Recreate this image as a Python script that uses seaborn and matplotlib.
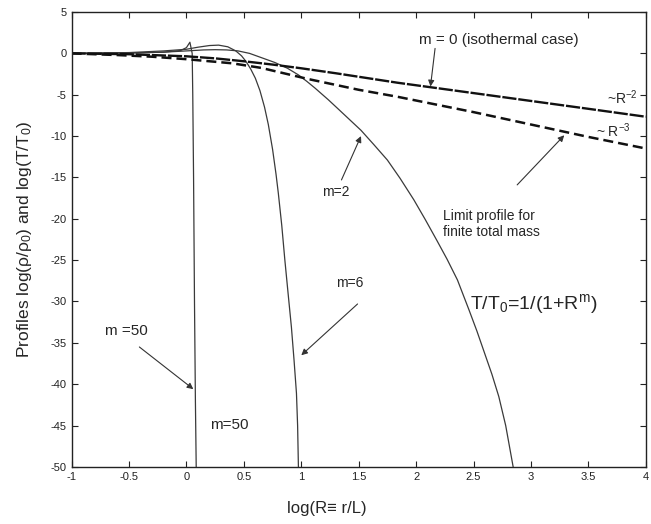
import matplotlib
matplotlib.use("Agg")
import matplotlib.pyplot as plt
import seaborn as sns
import pandas as pd

# ---- data ----
logR_m2 = [-1.0, -0.5, -0.2, 0.0, 0.15, 0.25, 0.35, 0.45, 0.55, 0.65, 0.77, 0.88,
           0.975, 1.05, 1.12, 1.235, 1.32, 1.42, 1.52, 1.63, 1.75, 1.86, 1.98, 2.08,
           2.18, 2.27, 2.36, 2.46, 2.53, 2.59, 2.66, 2.72, 2.78, 2.845]
prof_m2 = [0.0, 0.05, 0.15, 0.3, 0.42, 0.45, 0.42, 0.3, 0.0, -0.5, -1.1, -1.8,
           -2.6, -3.4, -4.2, -5.6, -6.7, -8.0, -9.3, -11.0, -12.9, -15.1, -17.7, -20.1,
           -22.6, -24.9, -27.4, -31.0, -33.6, -36.0, -38.8, -41.5, -45.0, -50.0]

logR_m6 = [-1.0, -0.5, -0.2, 0.0, 0.1, 0.2, 0.28, 0.36, 0.43, 0.48, 0.52, 0.56, 0.6,
           0.64, 0.68, 0.713, 0.75, 0.78, 0.80, 0.83, 0.857, 0.885, 0.914, 0.937,
           0.958, 0.968, 0.975]
prof_m6 = [0.0, 0.1, 0.3, 0.5, 0.75, 0.95, 1.0, 0.8, 0.3, -0.3, -1.0, -1.9, -3.0,
           -4.5, -6.5, -8.6, -11.6, -14.6, -16.9, -20.8, -25.0, -29.0, -33.1, -37.1,
           -41.1, -45.0, -50.0]

logR_m50 = [-1.0, -0.5, -0.2, -0.05, 0.0, 0.03, 0.05, 0.055, 0.062, 0.07, 0.078, 0.085]
prof_m50 = [0.0, 0.05, 0.15, 0.35, 0.7, 1.35, 0.0, -5.0, -15.0, -30.0, -42.0, -50.0]

logR_iso = [-1.0, -0.5, 0.0, 0.25, 0.5, 0.75, 1.0, 1.3, 1.84, 2.5, 3.0, 3.5, 4.0]
prof_iso = [0.0, -0.1, -0.35, -0.6, -0.95, -1.35, -1.8, -2.4, -3.55, -4.8, -5.75, -6.7, -7.66]

logR_lim = [-1.0, -0.6, -0.3, 0.0, 0.4, 0.65, 1.06, 1.5, 1.84, 2.5, 3.05, 3.5, 4.0]
prof_lim = [0.0, -0.2, -0.4, -0.7, -1.2, -1.75, -3.1, -4.4, -5.25, -7.1, -8.75, -10.1, -11.5]

xtick_vals = [-1, -0.5, 0, 0.5, 1, 1.5, 2, 2.5, 3, 3.5, 4]
xtick_labels = ["-1", "-0.5", "0", "0.5", "1", "1.5", "2", "2.5", "3", "3.5", "4"]
ytick_vals = [5, 0, -5, -10, -15, -20, -25, -30, -35, -40, -45, -50]

sns.set_style("ticks")
plt.rcParams["font.family"] = ["Liberation Sans", "DejaVu Sans"]
plt.rcParams["mathtext.fontset"] = "custom"
plt.rcParams["mathtext.rm"] = "Liberation Sans"
plt.rcParams["mathtext.it"] = "Liberation Sans:italic"
plt.rcParams["axes.unicode_minus"] = False

fig = plt.figure(figsize=(6.51, 5.24), dpi=100)
ax = fig.add_axes([0.110, 0.109, 0.882, 0.868])

thin = dict(color="#3a3a3a", linewidth=0.9)
for xs, ys in [(logR_m2, prof_m2), (logR_m6, prof_m6), (logR_m50, prof_m50)]:
    sns.lineplot(data=pd.DataFrame({"x": xs, "y": ys}), x="x", y="y", ax=ax,
                 sort=False, estimator=None, **thin)

sns.lineplot(data=pd.DataFrame({"x": logR_iso, "y": prof_iso}), x="x", y="y", ax=ax,
             sort=False, estimator=None, color="#111111", linewidth=1.7)
ax.lines[-1].set_dashes([6, 0.8])
sns.lineplot(data=pd.DataFrame({"x": logR_lim, "y": prof_lim}), x="x", y="y", ax=ax,
             sort=False, estimator=None, color="#111111", linewidth=1.8)
ax.lines[-1].set_dashes([4, 2])

ax.set_xlim(-1, 4)
ax.set_ylim(-50, 5)
ax.set_xticks(xtick_vals)
ax.set_xticklabels(xtick_labels)
ax.set_yticks(ytick_vals)
ax.tick_params(direction="in", top=True, right=True, labelsize=8, length=4,
               width=0.8, colors="#222222")
for s in ax.spines.values():
    s.set_linewidth(1.0)
    s.set_color("#222222")

ax.set_xlabel("log(R\u2261 r/L)", fontsize=12, labelpad=14)
ax.xaxis.set_label_coords((327 - 72) / 574, -0.075)
ax.set_ylabel(r"Profiles log(ρ/ρ$_0$) and log(T/T$_0$)", fontsize=12.5, labelpad=12)

arrow = dict(arrowstyle="-|>", color="#333333", lw=0.8, mutation_scale=9,
             shrinkA=0, shrinkB=0)

ax.text(2.72, 1.6, "m = 0 (isothermal case)", fontsize=11, ha="center", va="center")
ax.annotate("", xy=(2.125, -4.0), xytext=(2.165, 0.6), arrowprops=arrow)
ax.text(3.93, -5.3, "~R$^{-2}$", fontsize=10, ha="right", va="center")
ax.text(3.87, -9.3, "~ R$^{-3}$", fontsize=10, ha="right", va="center")
ax.annotate("", xy=(3.29, -9.9), xytext=(2.88, -15.9), arrowprops=arrow)
ax.text(2.23, -18.8, "Limit profile for\nfinite total mass", fontsize=10,
        ha="left", va="top", linespacing=1.15)
ax.text(1.30, -16.8, "m=2", fontsize=10, ha="center", va="center")
ax.annotate("", xy=(1.52, -10.0), xytext=(1.35, -15.3), arrowprops=arrow)
ax.text(1.42, -27.8, "m=6", fontsize=10, ha="center", va="center")
ax.annotate("", xy=(1.0, -36.5), xytext=(1.49, -30.3), arrowprops=arrow)
ax.text(-0.52, -33.6, "m =50", fontsize=11, ha="center", va="center")
ax.annotate("", xy=(0.06, -40.6), xytext=(-0.41, -35.5), arrowprops=arrow)
ax.text(0.37, -44.9, "m=50", fontsize=11, ha="center", va="center")
ax.text(2.47, -30.3, r"T/T$_0$=1/(1+R$^{\mathrm{m}}$)", fontsize=14, ha="left", va="center")

fig.savefig("out.png", dpi=100)
